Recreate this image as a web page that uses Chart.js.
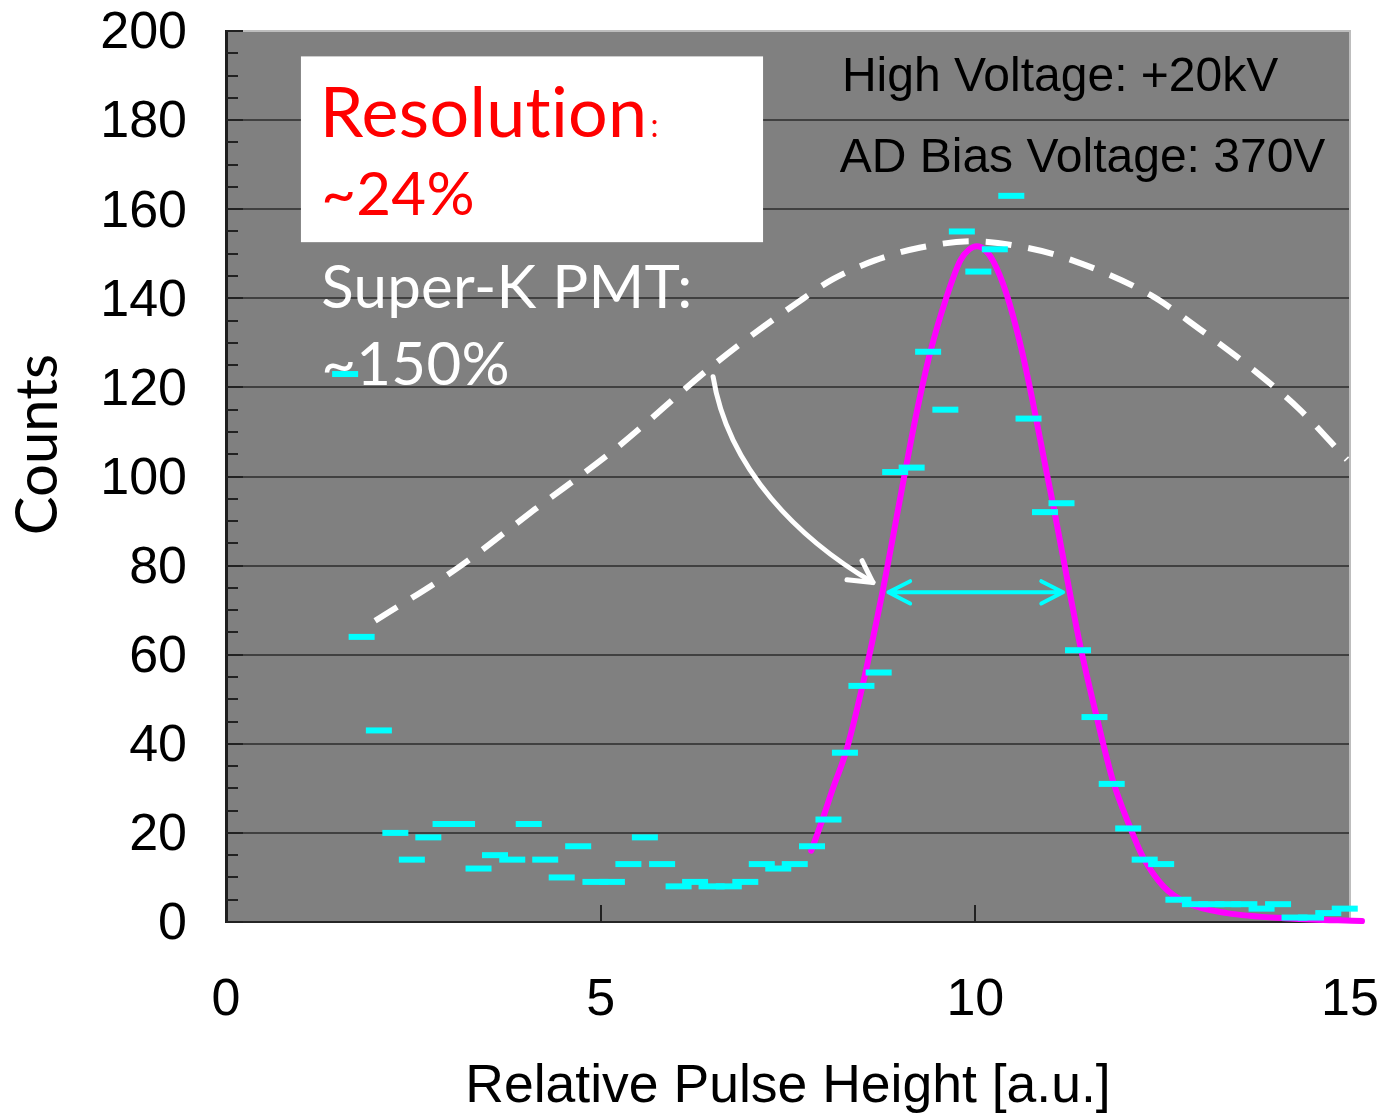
<!DOCTYPE html>
<html><head><meta charset="utf-8">
<script src="https://cdn.jsdelivr.net/npm/chart.js@4/dist/chart.umd.min.js"></script>
<style>html,body{margin:0;padding:0;background:#fff}canvas{display:block}</style>
</head><body>
<canvas id="c" width="1383" height="1114"></canvas>
<script>
// ---- data ----
const binX = [1.59,1.81,2.04,2.26,2.48,2.70,2.93,3.15,3.37,3.59,3.82,4.04,4.26,4.48,4.70,4.93,5.15,5.37,5.59,5.82,6.04,6.26,6.48,6.71,6.93,7.15,7.37,7.59,7.82,8.04,8.26,8.48,8.71,8.93,9.15,9.37,9.60,9.82,10.04,10.26,10.48,10.71,10.93,11.15,11.37,11.59,11.82,12.04,12.26,12.48,12.71,12.93,13.15,13.37,13.59,13.82,14.04,14.26,14.48,14.71,14.93];
const binCounts = [123,64,43,20,14,19,22,22,12,15,14,22,14,10,17,9,9,13,19,13,8,9,8,8,9,13,12,13,17,23,38,53,56,101,102,128,115,155,146,151,163,113,92,94,61,46,31,21,14,13,5,4,4,4,4,3,4,1,1,2,3];
const fitX = [7.81,7.95,8.10,8.27,8.48,8.76,9.04,9.20,9.40,9.62,9.80,9.92,10.02,10.12,10.24,10.41,10.61,10.77,10.95,11.04,11.26,11.40,11.62,11.84,12.06,12.24,12.51,12.82,13.36,14.20,15.16];
const fitY = [16,22.5,30,38,52,74,99,113,128,140.5,148.5,151,151.7,151,148.3,141.3,129,116.5,101,93.5,74,62,46,31.5,21.5,14.5,8,4.3,2.0,0.8,0.2];
const pmtX = [1.99,3.06,4.12,5.19,6.43,7.00,7.58,8.10,8.66,9.27,9.97,10.67,11.25,12.33,13.00,13.67,14.33,14.96];
const pmtY = [67.6,79.1,92.6,106.1,124.0,131.5,138.5,144.3,148.5,151.4,152.8,151.4,148.8,140.8,133,124.5,115,103.8];
const xTickValues = [0,5,10,15];
const yTickValues = [0,20,40,60,80,100,120,140,160,180,200];
const xTitle = 'Relative Pulse Height [a.u.]';
const yTitle = 'Counts';

// ---- annotations (data coordinates) ----
const boxX = [1.0, 7.167], boxY = [194.3, 152.6];
const arrowCurve = [[6.50,122.4],[6.70,101.5],[7.66,85.8],[8.634,76.2]];
const arrowArms = [[8.287,76.8],[8.488,81.1]];
const fwhmArrow = {x1:8.84, x2:11.17, y:74.0, dx:0.29, dy:2.5};

const bgPlugin = {
  id:'bg',
  beforeDraw(chart){
    const {ctx, chartArea:a} = chart;
    ctx.save();
    ctx.fillStyle = '#808080';
    ctx.fillRect(a.left, a.top, a.right-a.left, a.bottom-a.top);
    ctx.restore();
  },
  afterDraw(chart){
    // y-axis title (placed like the original, slightly above the axis centre)
    const {ctx, chartArea:a} = chart;
    ctx.save();
    ctx.translate(38.5, (a.top + a.bottom) / 2 - 32);
    ctx.rotate(-Math.PI / 2);
    ctx.textAlign = 'center'; ctx.textBaseline = 'middle';
    ctx.fillStyle = '#000';
    ctx.font = '58px Lato';
    ctx.fillText(yTitle, 0, 0);
    ctx.restore();
  }
};

const annoPlugin = {
  id:'anno',
  beforeDatasetsDraw(chart){
    const {ctx, chartArea:a, scales:{x, y}} = chart;
    ctx.save();
    ctx.strokeStyle = '#bdbdbd'; ctx.lineWidth = 2;
    ctx.beginPath(); ctx.moveTo(a.left, a.top); ctx.lineTo(a.right, a.top); ctx.lineTo(a.right, a.bottom); ctx.stroke();
    ctx.strokeStyle = '#222'; ctx.lineWidth = 2;
    for (let v = 0; v <= 200; v += 5) {
      const len = v % 20 === 0 ? 17 : 12;
      const py = Math.round(y.getPixelForValue(v));
      ctx.beginPath(); ctx.moveTo(a.left, py); ctx.lineTo(a.left + len, py); ctx.stroke();
    }
    for (const v of xTickValues.slice(1, -1)) {
      const pxx = Math.round(x.getPixelForValue(v));
      ctx.beginPath(); ctx.moveTo(pxx, a.bottom); ctx.lineTo(pxx, a.bottom - 17); ctx.stroke();
    }
    const bx = x.getPixelForValue(boxX[0]), bx2 = x.getPixelForValue(boxX[1]);
    const by = y.getPixelForValue(boxY[0]), by2 = y.getPixelForValue(boxY[1]);
    ctx.fillStyle = '#fff';
    ctx.fillRect(bx, by, bx2-bx, by2-by);
    ctx.textAlign = 'left'; ctx.textBaseline = 'alphabetic';
    const tx = (v) => x.getPixelForValue(v), ty = (v) => y.getPixelForValue(v);
    ctx.fillStyle = '#ff0000';
    ctx.font = '70px Lato';
    ctx.letterSpacing = '0.3px';
    ctx.fillText('Resolution', tx(1.25), ty(176.3));
    const w = ctx.measureText('Resolution').width;
    ctx.font = '32px Lato';
    ctx.fillText(':', tx(1.25) + w + 3, ty(176.3));
    ctx.font = '60px Lato';
    ctx.fillText('~24%', tx(1.27), ty(158.7));
    ctx.fillStyle = '#ffffff';
    ctx.fillText('Super-K PMT:', tx(1.27), ty(137.9));
    ctx.fillText('~150%', tx(1.27), ty(120.6));
    ctx.letterSpacing = '0px';
    ctx.fillStyle = '#000';
    ctx.font = '48px "Liberation Sans"';
    ctx.fillText('High Voltage: +20kV', tx(8.22), ty(186.5));
    ctx.fillText('AD Bias Voltage: 370V', tx(8.19), ty(168.3));
    ctx.restore();
  },
  afterDatasetsDraw(chart){
    const {ctx, scales:{x, y}} = chart;
    const P = (p) => [x.getPixelForValue(p[0]), y.getPixelForValue(p[1])];
    ctx.save();
    ctx.lineCap = 'round'; ctx.lineJoin = 'round';
    ctx.strokeStyle = '#fff'; ctx.lineWidth = 5;
    const [p0,c1,c2,p3] = arrowCurve.map(P);
    ctx.beginPath(); ctx.moveTo(...p0); ctx.bezierCurveTo(...c1, ...c2, ...p3); ctx.stroke();
    const [a1,a2] = arrowArms.map(P);
    ctx.beginPath(); ctx.moveTo(...a1); ctx.lineTo(...p3); ctx.lineTo(...a2); ctx.stroke();
    ctx.strokeStyle = '#00ffff'; ctx.lineWidth = 4;
    const f = fwhmArrow;
    ctx.beginPath();
    ctx.moveTo(...P([f.x1, f.y])); ctx.lineTo(...P([f.x2, f.y]));
    ctx.moveTo(...P([f.x1+f.dx, f.y+f.dy])); ctx.lineTo(...P([f.x1, f.y])); ctx.lineTo(...P([f.x1+f.dx, f.y-f.dy]));
    ctx.moveTo(...P([f.x2-f.dx, f.y+f.dy])); ctx.lineTo(...P([f.x2, f.y])); ctx.lineTo(...P([f.x2-f.dx, f.y-f.dy]));
    ctx.stroke();
    ctx.restore();
  }
};

new Chart(document.getElementById('c'), {
  type: 'scatter',
  data: {
    datasets: [
      {
        label: 'Counts',
        data: binX.map((v, i) => ({x: v, y: binCounts[i]})),
        showLine: false,
        pointStyle: 'line',
        pointRadius: 13, pointHoverRadius: 13,
        borderColor: '#00ffff', backgroundColor: '#00ffff',
        pointBorderWidth: 6, borderWidth: 6,
        clip: false
      },
      {
        label: 'Fit',
        data: fitX.map((v, i) => ({x: v, y: fitY[i]})),
        showLine: true, fill: false,
        borderColor: '#ff00ff', borderWidth: 6,
        pointRadius: 0, pointHoverRadius: 0,
        cubicInterpolationMode: 'monotone',
        borderCapStyle: 'round',
        clip: false
      },
      {
        label: 'Super-K PMT',
        data: pmtX.map((v, i) => ({x: v, y: pmtY[i]})),
        showLine: true, fill: false,
        borderColor: '#ffffff', borderWidth: 6,
        borderDash: [26, 17],
        pointRadius: 0, pointHoverRadius: 0,
        cubicInterpolationMode: 'monotone'
      }
    ]
  },
  options: {
    responsive: false, devicePixelRatio: 1, animation: false, events: [],
    layout: {padding: {top: 31, right: 33, left: 0, bottom: 0}},
    plugins: {legend: {display: false}, tooltip: {enabled: false}},
    scales: {
      x: {
        type: 'linear', min: 0, max: 15,
        afterBuildTicks: s => { s.ticks = xTickValues.map(v => ({value: v})); },
        afterFit: s => { s.height = 192; s.paddingLeft = 0; s.paddingRight = 0; },
        grid: {display: false, drawTicks: false},
        border: {display: true, color: '#262626', width: 2},
        ticks: {color: '#000', font: {family: 'Liberation Sans', size: 52}, padding: 47, maxRotation: 0},
        title: {display: true, text: xTitle, color: '#000', font: {family: 'Liberation Sans', size: 53.5, lineHeight: 1}, padding: {top: 0, bottom: 0}}
      },
      y: {
        type: 'linear', min: 0, max: 200,
        afterBuildTicks: s => { s.ticks = yTickValues.map(v => ({value: v})); },
        afterFit: s => { s.width = 226; s.paddingTop = 0; s.paddingBottom = 0; },
        grid: {
          drawTicks: false, lineWidth: 2,
          color: c => (c.tick && (c.tick.value === 0 || c.tick.value === 200)) ? 'rgba(0,0,0,0)' : '#404040'
        },
        border: {display: true, color: '#1e1e1e', width: 3},
        ticks: {color: '#000', font: {family: 'Liberation Sans', size: 52}, padding: 39, labelOffset: 3},
        title: {display: false, text: yTitle}
      }
    }
  },
  plugins: [bgPlugin, annoPlugin]
});
</script>
</body></html>
